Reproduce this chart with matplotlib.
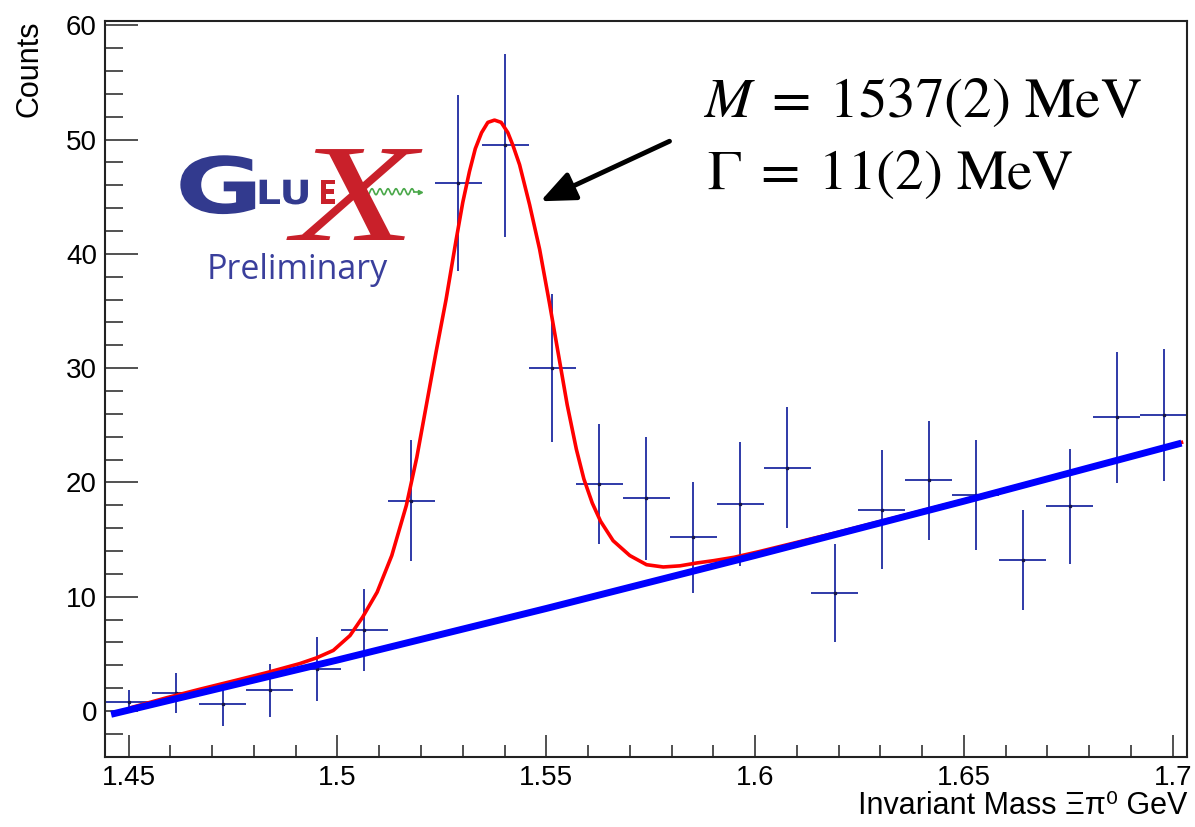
import numpy as np
import matplotlib
matplotlib.use('Agg')
import matplotlib.pyplot as plt
from matplotlib.lines import Line2D
from matplotlib.patheffects import AbstractPathEffect
from matplotlib.ticker import MultipleLocator
from matplotlib.transforms import Affine2D

plt.rcParams['font.family'] = ['Liberation Sans', 'DejaVu Sans']
plt.rcParams['mathtext.fontset'] = 'stix'

# Xi pi0 invariant mass histogram (23 bins)
mass_lo, mass_hi = 1.4444, 1.7035
counts = [0.8, 1.6, 0.6, 1.8, 3.7, 7.1, 18.4, 46.2, 49.5, 30.0, 19.9, 18.6,
          15.2, 18.1, 21.3, 10.3, 17.6, 20.2, 18.9, 13.2, 17.9, 25.7, 25.9]
errors = [1.0, 1.75, 1.9, 2.35, 2.8, 3.6, 5.3, 7.7, 8.0, 6.45, 5.25, 5.4,
          4.85, 5.45, 5.3, 4.3, 5.2, 5.2, 4.85, 4.4, 5.0, 5.75, 5.8]

# total fit (signal + background)
fit_mass = [1.4506, 1.4590, 1.4670, 1.4750, 1.4830, 1.4910, 1.4950, 1.4990,
            1.5030, 1.5060, 1.5095, 1.5130, 1.5165, 1.5190, 1.5212, 1.5236,
            1.5260, 1.5284, 1.5300, 1.5316, 1.5330, 1.5345, 1.5360, 1.5376,
            1.5392, 1.5408, 1.5420, 1.5436, 1.5460, 1.5484, 1.5508, 1.5530,
            1.5550, 1.5572, 1.5590, 1.5610, 1.5630, 1.5660, 1.5700, 1.5740,
            1.5780, 1.5820, 1.5860, 1.5900, 1.5950, 1.6010, 1.6200, 1.6500,
            1.6800, 1.7021]
fit_counts = [0.3, 1.15, 1.9, 2.62, 3.35, 4.15, 4.65, 5.3,
              6.6, 8.2, 10.4, 13.6, 18.0, 22.2, 26.6, 31.4,
              36.0, 41.2, 44.5, 47.2, 49.2, 50.6, 51.5, 51.7,
              51.5, 50.6, 49.5, 47.8, 44.3, 40.4, 35.6, 31.0,
              26.8, 22.9, 20.3, 18.2, 16.6, 14.9, 13.6, 12.8,
              12.6, 12.7, 12.95, 13.15, 13.45, 13.95, 15.65, 18.45,
              21.35, 23.5]

# background component
bkg_mass = [1.4458, 1.50, 1.55, 1.60, 1.65, 1.7021]
bkg_counts = [-0.29, 4.46, 8.97, 13.61, 18.36, 23.44]

W, H = 1195, 827


class Stretch(AbstractPathEffect):
    """Scale glyph outlines about the text origin."""

    def __init__(self, sx=1.0, sy=1.0):
        super().__init__()
        self._sx, self._sy = sx, sy

    def draw_path(self, renderer, gc, tpath, affine, rgbFace=None):
        renderer.draw_path(gc, tpath, Affine2D().scale(self._sx, self._sy) + affine, rgbFace)


def px(x, y):
    return x / W, 1 - y / H


edges = np.linspace(mass_lo, mass_hi, len(counts) + 1)
centers = 0.5 * (edges[:-1] + edges[1:])
half_w = 0.5 * (edges[1] - edges[0])

fig = plt.figure(figsize=(W / 100, H / 100), dpi=100)
ax = fig.add_axes([0.0881, 0.0850, 0.9055, 0.8900])

ax.errorbar(centers, counts, xerr=half_w, yerr=errors, fmt='s', ms=1.4,
            color='#2f3aa8', mfc='#15154a', mec='#15154a',
            elinewidth=1.4, capsize=0, zorder=2)
ax.plot(fit_mass, fit_counts, color='red', lw=2.6, zorder=3)
ax.plot(bkg_mass, bkg_counts, color='blue', lw=5.0, solid_capstyle='butt', zorder=4)

ax.set_xlim(mass_lo, mass_hi)
ax.set_ylim(-4, 60.4)
ax.set_xticks([1.45, 1.5, 1.55, 1.6, 1.65, 1.7])
ax.set_xticklabels(['1.45', '1.5', '1.55', '1.6', '1.65', '1.7'])
ax.xaxis.set_minor_locator(MultipleLocator(0.01))
ax.set_yticks(range(0, 61, 10))
ax.yaxis.set_minor_locator(MultipleLocator(2))
ax.tick_params(axis='both', which='both', direction='in', color='#222222',
               width=1.1, labelsize=20, top=False, right=False)
ax.tick_params(axis='x', which='major', length=15.5, pad=6)
ax.tick_params(axis='x', which='minor', length=8.5)
ax.tick_params(axis='y', which='major', length=24, pad=6)
ax.tick_params(axis='y', which='minor', length=13)
for sp in ax.spines.values():
    sp.set_linewidth(1.5)
    sp.set_color('#222222')

ax.set_xlabel('Invariant Mass Ξπ⁰ GeV', fontsize=22, loc='right')
ax.xaxis.set_label_coords(1.0, -0.046)
ax.set_ylabel('Counts', fontsize=22, loc='top')
ax.yaxis.set_label_coords(-0.0565, 1.0)

# fit result and arrow to the peak
fig.text(*px(703, 116.7), r'$M\;=\;1537(2)\ \mathrm{MeV}$', fontsize=41,
         va='baseline', ha='left')
fig.text(*px(706.7, 189.3), r'$\Gamma\;=\;11(2)\ \mathrm{MeV}$', fontsize=41,
         va='baseline', ha='left')
ax.annotate('', xy=(1.5486, 44.6), xytext=(1.5795, 49.85),
            arrowprops=dict(arrowstyle='-|>,head_length=0.7,head_width=0.3',
                            lw=3.5, color='black', mutation_scale=30,
                            shrinkA=0, shrinkB=0))

# GlueX logo
logo_blue = '#323a8e'
logo_red = '#c9202a'
fig.text(*px(175, 213), 'G', fontsize=56, fontweight='bold', family='DejaVu Sans',
         color=logo_blue, va='baseline', path_effects=[Stretch(1.38, 1.0)])
fig.text(*px(293, 240), 'X', fontsize=100, fontstyle='italic', family='Liberation Serif',
         color=logo_red, va='baseline', path_effects=[Stretch(1.45, 1.0)])
fig.text(*px(256, 204), 'LU', fontsize=24, fontweight='bold', family='DejaVu Sans',
         color=logo_blue, va='baseline', path_effects=[Stretch(1.18, 1.0)])
fig.text(*px(318, 204), 'E', fontsize=24, fontweight='bold', family='DejaVu Sans',
         color=logo_red, va='baseline', path_effects=[Stretch(0.85, 1.0)])
wx = np.linspace(366, 414, 120)
wy = 191.7 + 3 * np.sin((wx - 366) / 48 * 6 * 2 * np.pi)
fig.add_artist(Line2D(wx / W, 1 - wy / H, color='#4aa84a', lw=1.2,
                      transform=fig.transFigure))
fig.add_artist(Line2D([414 / W, 420 / W], [1 - 191.7 / H, 1 - 191.7 / H],
                      color='#4aa84a', lw=1.2, marker='>', markevery=[1], ms=3,
                      transform=fig.transFigure))
fig.text(*px(206.7, 279.3), 'Preliminary', fontsize=24.5, family='Open Sans',
         color='#3a3f9c', va='baseline')

fig.savefig('out.png', dpi=100)
